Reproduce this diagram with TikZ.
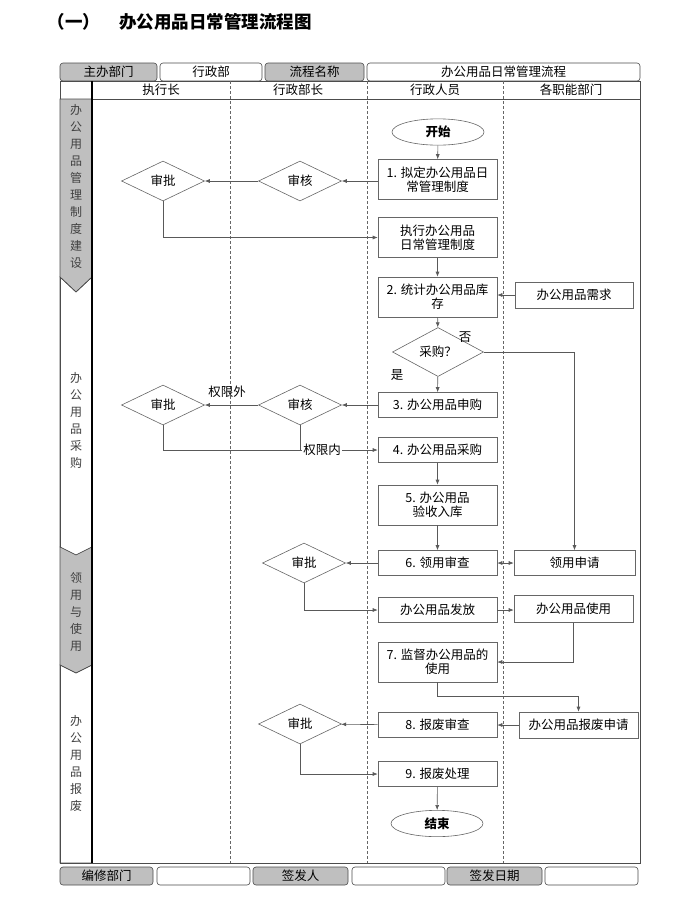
\documentclass[tikz,border=0pt]{standalone}
\usepackage{fontspec}
\setmainfont{Noto Sans CJK SC}
\usetikzlibrary{arrows.meta,positioning,shapes.geometric}

\begin{document}
\begin{tikzpicture}[
  x=1pt, y=-1pt,
  font=\fontsize{12.5}{14}\selectfont,
  conn/.style={draw=black!65, line width=0.6pt},
  arrow/.style={conn, -{Latex[length=5pt,width=4pt]}},
  box/.style={rectangle, draw=black!60, line width=0.6pt, align=center, minimum width=119pt, minimum height=25pt, inner sep=1pt},
  tall/.style={box, minimum height=40pt},
  term/.style={ellipse, draw=black!60, line width=0.6pt, minimum width=92pt, minimum height=23pt, font=\fontsize{12.5}{14}\selectfont\bfseries},
  dec/.style={diamond, draw=black!60, line width=0.6pt, minimum width=83pt, minimum height=40pt, inner sep=0pt},
  hdr/.style={rectangle, rounded corners=3pt, draw=black!70, line width=0.6pt, fill=black!25, minimum height=18pt, inner sep=0pt},
  cell/.style={hdr, fill=white},
  phase/.style={align=center, text=black!75, font=\fontsize{12}{17}\selectfont},
  lbl/.style={font=\fontsize{12.5}{14}\selectfont, inner sep=1pt}
]
\useasboundingbox (0,0) rectangle (700,898);

% title
\node[anchor=west, font=\fontsize{17.5}{19}\selectfont\bfseries] (title) at (44,22) {（一）\hspace{1.1em}办公用品日常管理流程图};

% header rows
\node[hdr, minimum width=97pt] (h1) at (108.5,72) {主办部门};
\node[cell, minimum width=102pt] (h2) at (211,72) {行政部};
\node[hdr, minimum width=99pt] (h3) at (314.5,72) {流程名称};
\node[cell, minimum width=273pt] (h4) at (503.5,72) {办公用品日常管理流程};

% frame and lanes
\draw[black!70, line width=0.6pt] (60,81) rectangle (640,863);
\draw[black!70, line width=0.6pt] (92,99) -- (640,99);
\foreach \lx in {230,367,503}
  \draw[black!60, densely dashed, line width=0.4pt] (\lx,81) -- (\lx,863);
\node (lane1) at (161,90) {执行长};
\node (lane2) at (298,90) {行政部长};
\node (lane3) at (435,90) {行政人员};
\node (lane4) at (571,90) {各职能部门};

% phases
\draw[black!70, fill=black!25, line width=0.6pt] (60,99) -- (92,99) -- (92,277) -- (76,292) -- (60,277) -- cycle;
\draw[black!70, line width=0.6pt] (60,277) -- (76,292) -- (92,277) -- (92,547) -- (76,555) -- (60,547) -- cycle;
\draw[black!70, fill=black!25, line width=0.6pt] (60,547) -- (76,555) -- (92,547) -- (92,665) -- (76,673) -- (60,665) -- cycle;
\draw[black!70, line width=0.6pt] (60,665) -- (76,673) -- (92,665) -- (92,863) -- (60,863) -- cycle;
\draw[black, line width=1.4pt] (92,81) -- (92,863);
\node[phase] (ph1) at (76,186) {办\\公\\用\\品\\管\\理\\制\\度\\建\\设};
\node[phase] (ph2) at (76,420) {办\\公\\用\\品\\采\\购};
\node[phase] (ph3) at (76,612) {领\\用\\与\\使\\用};
\node[phase] (ph4) at (76,763) {办\\公\\用\\品\\报\\废};

% footer row
\node[hdr, minimum width=93pt] (f1) at (106.5,876) {编修部门};
\node[cell, minimum width=93pt] (f2) at (203.5,876) {};
\node[hdr, minimum width=95pt] (f3) at (300.5,876) {签发人};
\node[cell, minimum width=93pt] (f4) at (398.5,876) {};
\node[hdr, minimum width=95pt] (f5) at (494.5,876) {签发日期};
\node[cell, minimum width=93pt] (f6) at (591.5,876) {};

% process nodes
\node[term] (start) at (438,132) {开始};
\node[tall] (s1) at (437.5,179.5) {1. 拟定办公用品日\\常管理制度};
\node[tall] (exec) at (437.5,237.5) {执行办公用品\\日常管理制度};
\node[tall] (s2) at (437.5,297) {2. 统计办公用品库\\存};
\node[box, minimum width=118pt, minimum height=26pt] (need) at (574,295) {办公用品需求};
\node[dec, minimum width=91pt, minimum height=39pt] (buy) at (438,352) {采购？};
\node[box] (s3) at (437.5,405) {3. 办公用品申购};
\node[box] (s4) at (437.5,450) {4. 办公用品采购};
\node[tall] (s5) at (437.5,505) {5. 办公用品\\验收入库};
\node[box] (s6) at (437.5,563) {6. 领用审查};
\node[box, minimum width=121pt] (apply) at (574.5,563) {领用申请};
\node[box] (issue) at (437.5,610) {办公用品发放};
\node[box, minimum height=27pt] (use) at (573.5,609) {办公用品使用};
\node[tall] (s7) at (437.5,662) {7. 监督办公用品的\\使用};
\node[box] (s8) at (437.5,725) {8. 报废审查};
\node[box, minimum height=26pt] (scrap) at (578.5,725) {办公用品报废申请};
\node[box] (s9) at (437.5,774) {9. 报废处理};
\node[term] (stop) at (437,823.5) {结束};

% decisions
\node[dec] (ok1) at (163,181) {审批};
\node[dec] (chk1) at (300,181) {审核};
\node[dec] (ok2) at (163,405) {审批};
\node[dec] (chk2) at (300,405) {审核};
\node[dec] (ok3) at (304,563) {审批};
\node[dec] (ok4) at (300,724) {审批};
\coordinate (bend) at (437.5,696);

% connectors
\draw[arrow] (start) -- (s1);
\draw[arrow] (s1.west |- chk1.east) -- (chk1.east);
\draw[arrow] (chk1) -- (ok1);
\draw[arrow] (ok1.south) |- (exec.west);
\draw[arrow] (exec) -- (s2);
\draw[arrow] (need.west) -- (need.west -| s2.east);
\draw[arrow] (s2) -- (buy);
\draw[arrow] (buy) -- (s3);
\node[lbl] (yes) at (397,375) {是};
\draw[arrow] (buy.east) -| (apply.north);
\node[lbl] (no) at (465,337) {否};
\draw[arrow] (s3) -- (chk2);
\draw[arrow] (chk2) -- (ok2);
\node[lbl] (outer) at (227,392) {权限外};
\draw[arrow] (ok2.south) |- (s4.west);
\draw[conn] (chk2.south) -- (chk2.south |- s4.west);
\node[lbl, fill=white] (inner) at (322,450) {权限内};
\draw[arrow] (s4) -- (s5);
\draw[arrow] (s5) -- (s6);
\draw[conn, {Latex[length=5pt,width=4pt]}-{Latex[length=5pt,width=4pt]}] (s6) -- (apply);
\draw[arrow] (s6) -- (ok3);
\draw[arrow] (ok3.south) |- (issue.west);
\draw[arrow] (issue) -- (issue -| use.west);
\draw[arrow] (use.south) |- (s7.east);
\draw[arrow] (s7.south) -- (bend) -| (scrap.north);
\draw[arrow] (scrap) -- (s8);
\draw[arrow] (s8) -- (ok4);
\draw[arrow] (ok4.south) |- (s9.west);
\draw[arrow] (s9) -- (stop);
\end{tikzpicture}
\end{document}
